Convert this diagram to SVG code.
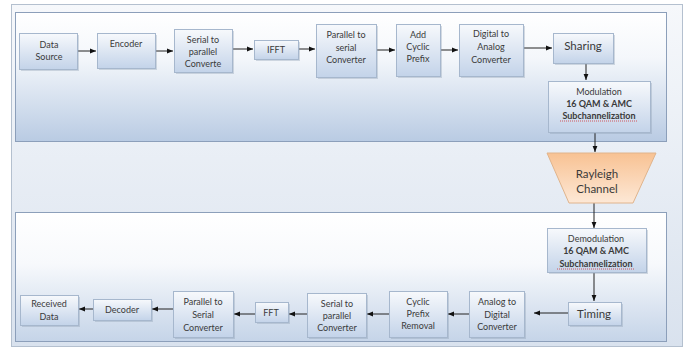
<svg xmlns="http://www.w3.org/2000/svg" width="686" height="347" viewBox="0 0 686 347">
<defs>
<linearGradient id="gOuter" x1="0" y1="0" x2="0" y2="1"><stop offset="0" stop-color="#f6f8fb"/><stop offset="1" stop-color="#d9e2ee"/></linearGradient>
<linearGradient id="gPanel" x1="0" y1="0" x2="0" y2="1"><stop offset="0" stop-color="#ffffff"/><stop offset="0.35" stop-color="#f4f7fb"/><stop offset="1" stop-color="#b9cbe3"/></linearGradient>
<linearGradient id="gPanel2" x1="0" y1="0" x2="0" y2="1"><stop offset="0" stop-color="#ffffff"/><stop offset="0.4" stop-color="#f7f9fc"/><stop offset="1" stop-color="#c5d4e8"/></linearGradient>
<linearGradient id="gBox" x1="0" y1="0" x2="0" y2="1"><stop offset="0" stop-color="#f7f9fc"/><stop offset="1" stop-color="#c3d3e9"/></linearGradient>
<linearGradient id="gRay" x1="0" y1="0" x2="0" y2="1"><stop offset="0" stop-color="#f8c293"/><stop offset="1" stop-color="#fde8d6"/></linearGradient>
<marker id="ah" viewBox="0 0 10 10" refX="10" refY="5" markerWidth="6" markerHeight="6" orient="auto"><path d="M0,1 L10,5 L0,9 z" fill="#111"/></marker>
<style>
.box{fill:url(#gBox);stroke:#a6b7cd;stroke-width:1}
.sh{fill:#8a9ab0;opacity:0.35}
.t{font-family:"Lato","Liberation Sans",sans-serif;font-size:9px;fill:#3a3a3a;text-anchor:middle;dominant-baseline:central}
.tb{font-weight:bold}
.tl{font-size:11.5px}
.c{stroke:#222;stroke-width:1;fill:none;marker-end:url(#ah)}
.sp{stroke:#d02020;stroke-width:0.7;fill:none;stroke-dasharray:1 1}
</style>
</defs>
<rect x="11.5" y="4.5" width="671" height="342" fill="url(#gOuter)" stroke="#b4c0cf"/>
<g id="tx-panel"><rect x="15.5" y="12.5" width="651" height="129" fill="url(#gPanel)" stroke="#8c9fba"/></g>
<g id="rx-panel"><rect x="15.5" y="212.5" width="651" height="129" fill="url(#gPanel2)" stroke="#8c9fba"/></g>

<g id="connectors">
<line class="c" x1="78" y1="51" x2="96" y2="51"/>
<line class="c" x1="155" y1="51" x2="173" y2="51"/>
<line class="c" x1="232" y1="49" x2="253" y2="49"/>
<line class="c" x1="298" y1="49" x2="315" y2="49"/>
<line class="c" x1="376" y1="50" x2="395" y2="50"/>
<line class="c" x1="440" y1="50" x2="458" y2="50"/>
<line class="c" x1="523" y1="48" x2="552" y2="48"/>
<line class="c" x1="586" y1="63" x2="586" y2="80"/>
<line class="c" x1="595" y1="132" x2="595" y2="152"/>
<line class="c" x1="594" y1="203" x2="594" y2="228"/>
<line class="c" x1="594" y1="272" x2="594" y2="301"/>
<line class="c" x1="568" y1="313" x2="534" y2="313"/>
<line class="c" x1="469" y1="314" x2="448" y2="314"/>
<line class="c" x1="389" y1="314" x2="367" y2="314"/>
<line class="c" x1="307" y1="314" x2="289" y2="314"/>
<line class="c" x1="255" y1="314" x2="234" y2="314"/>
<line class="c" x1="173" y1="309" x2="152" y2="309"/>
<line class="c" x1="93" y1="309" x2="79" y2="309"/>
</g>

<g id="data-source"><rect class="sh" x="21" y="35" width="58" height="36"/><rect class="box" x="19.5" y="33.5" width="58" height="36"/><text class="t" x="49" y="44">Data</text><text class="t" x="49" y="56">Source</text></g>
<g id="encoder"><rect class="sh" x="99" y="35" width="58" height="35"/><rect class="box" x="97.5" y="33.5" width="58" height="35"/><text class="t" x="126" y="43">Encoder</text></g>
<g id="s2p-tx"><rect class="sh" x="176" y="31" width="58" height="43"/><rect class="box" x="174.5" y="29.5" width="58" height="43"/><text class="t" x="203" y="39">Serial to</text><text class="t" x="203" y="51">parallel</text><text class="t" x="203" y="63">Converte</text></g>
<g id="ifft"><rect class="sh" x="256" y="42" width="44" height="19"/><rect class="box" x="254.5" y="40.5" width="44" height="19"/><text class="t" x="276" y="49">IFFT</text></g>
<g id="p2s-tx"><rect class="sh" x="318" y="26" width="60" height="53"/><rect class="box" x="316.5" y="24.5" width="60" height="53"/><text class="t" x="346" y="34">Parallel to</text><text class="t" x="346" y="47">serial</text><text class="t" x="346" y="59">Converter</text></g>
<g id="add-cp"><rect class="sh" x="398" y="26" width="44" height="52"/><rect class="box" x="396.5" y="24.5" width="44" height="52"/><text class="t" x="418" y="34">Add</text><text class="t" x="418" y="46">Cyclic</text><text class="t" x="418" y="58">Prefix</text></g>
<g id="dac"><rect class="sh" x="461" y="26" width="64" height="52"/><rect class="box" x="459.5" y="24.5" width="64" height="52"/><text class="t" x="491" y="33">Digital to</text><text class="t" x="491" y="46">Analog</text><text class="t" x="491" y="59">Converter</text></g>
<g id="sharing"><rect class="sh" x="555" y="35" width="60" height="30"/><rect class="box" x="553.5" y="33.5" width="60" height="30"/><text class="t tl" x="583" y="45">Sharing</text></g>
<g id="modulation"><rect class="sh" x="550" y="83" width="102" height="51"/><rect class="box" x="548.5" y="81.5" width="102" height="51"/><text class="t" x="599" y="91">Modulation</text><text class="t tb" x="599" y="103">16 QAM &amp; AMC</text><text class="t tb" x="599" y="115">Subchannelization</text><path class="sp" d="M560,121 L638,121"/></g>
<g id="rayleigh"><path d="M547,153 L656,153 L633,203 L569,203 Z" fill="url(#gRay)" stroke="#e0b48c"/><text class="t tl" x="597" y="173">Rayleigh</text><text class="t tl" x="597" y="188">Channel</text></g>
<g id="demodulation"><rect class="sh" x="549" y="230" width="99" height="44"/><rect class="box" x="547.5" y="228.5" width="99" height="44"/><text class="t" x="596" y="238">Demodulation</text><text class="t tb" x="596" y="250">16 QAM &amp; AMC</text><text class="t tb" x="596" y="263">Subchannelization</text><path class="sp" d="M557,269 L635,269"/></g>
<g id="timing"><rect class="sh" x="570" y="304" width="53" height="23"/><rect class="box" x="568.5" y="302.5" width="53" height="23"/><text class="t tl" x="594" y="313">Timing</text></g>
<g id="adc"><rect class="sh" x="471" y="293" width="55" height="46"/><rect class="box" x="469.5" y="291.5" width="55" height="46"/><text class="t" x="497" y="301">Analog to</text><text class="t" x="497" y="314">Digital</text><text class="t" x="497" y="326">Converter</text></g>
<g id="cp-removal"><rect class="sh" x="391" y="293" width="58" height="46"/><rect class="box" x="389.5" y="291.5" width="58" height="46"/><text class="t" x="418" y="301">Cyclic</text><text class="t" x="418" y="313">Prefix</text><text class="t" x="418" y="325">Removal</text></g>
<g id="s2p-rx"><rect class="sh" x="309" y="295" width="59" height="44"/><rect class="box" x="307.5" y="293.5" width="59" height="44"/><text class="t" x="337" y="303">Serial to</text><text class="t" x="337" y="315">parallel</text><text class="t" x="337" y="327">Converter</text></g>
<g id="fft"><rect class="sh" x="257" y="304" width="33" height="20"/><rect class="box" x="255.5" y="302.5" width="33" height="20"/><text class="t" x="271" y="312">FFT</text></g>
<g id="p2s-rx"><rect class="sh" x="175" y="293" width="60" height="46"/><rect class="box" x="173.5" y="291.5" width="60" height="46"/><text class="t" x="203" y="301">Parallel to</text><text class="t" x="203" y="314">Serial</text><text class="t" x="203" y="327">Converter</text></g>
<g id="decoder"><rect class="sh" x="95" y="301" width="58" height="21"/><rect class="box" x="93.5" y="299.5" width="58" height="21"/><text class="t" x="122" y="309">Decoder</text></g>
<g id="received-data"><rect class="sh" x="22" y="297" width="58" height="30"/><rect class="box" x="20.5" y="295.5" width="58" height="30"/><text class="t" x="49" y="303">Received</text><text class="t" x="49" y="316">Data</text></g>
</svg>
